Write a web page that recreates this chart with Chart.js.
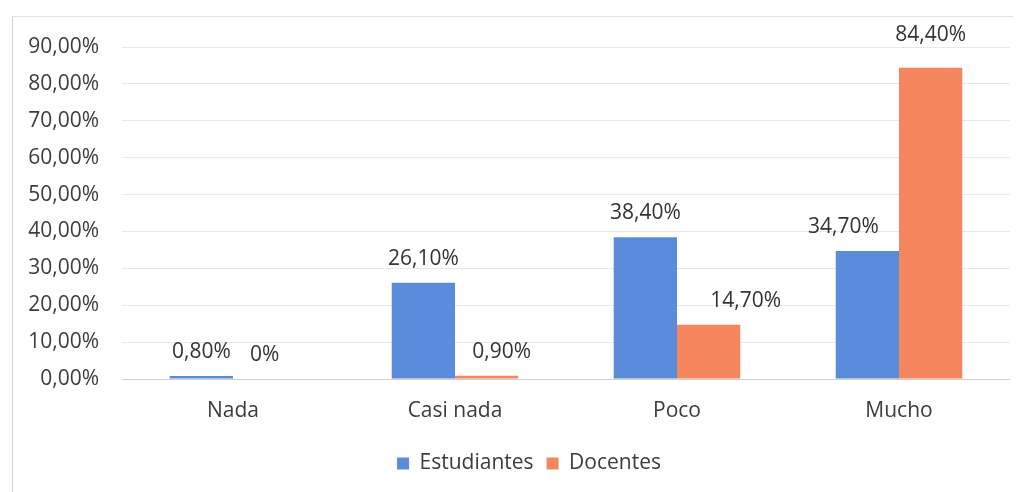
<!DOCTYPE html>
<html>
<head>
<meta charset="utf-8">
<script src="https://cdn.jsdelivr.net/npm/chart.js@4.4.1/dist/chart.umd.min.js"></script>
<style>
  html, body { margin: 0; padding: 0; background: #fff; }
  #wrap { position: relative; width: 1024px; height: 492px; }
  #frame {
    position: absolute; left: 12px; top: 16px; width: 1000px; height: 476px;
    border-left: 1px solid #d6d6d6; border-top: 1px solid #e2e2e2;
    pointer-events: none;
  }
  canvas { position: absolute; left: 0; top: 0; }
</style>
</head>
<body>
<div id="wrap">
  <div id="frame"></div>
  <canvas id="grafico" width="1024" height="492"></canvas>
</div>
<script>
const categorias = ['Nada', 'Casi nada', 'Poco', 'Mucho'];
const estudiantes = [0.8, 26.1, 38.4, 34.7];
const docentes = [0, 0.9, 14.7, 84.4];
const ticksY = [0, 10, 20, 30, 40, 50, 60, 70, 80, 90];

const fuente = "'Open Sans', 'Noto Sans', sans-serif";
const gris = '#3c3c3c';

// formato con coma decimal: 26.1 -> "26,10%"
const pct = v => v === 0 ? '0%' : v.toFixed(2).replace('.', ',') + '%';

// algunas etiquetas van corridas para no pisar la barra vecina
// clave: "dataset-indice" -> [dx, dy]
const ajusteEtiqueta = {
    '1-1': [15, 0],
    '1-2': [37, 0],
    '0-3': [-24, 0],
    '1-3': [0, -9]
};

// etiquetas de valor encima de cada barra
const etiquetas = {
    id: 'etiquetas',
    afterDatasetsDraw(chart) {
        const ctx = chart.ctx;
        ctx.save();
        ctx.font = '21px ' + fuente;
        ctx.fillStyle = '#333333';
        ctx.textAlign = 'center';
        ctx.textBaseline = 'middle';
        chart.data.datasets.forEach((ds, i) => {
            chart.getDatasetMeta(i).data.forEach((bar, j) => {
                const [dx, dy] = ajusteEtiqueta[i + '-' + j] || [0, 0];
                ctx.fillText(pct(ds.data[j]), bar.x + dx, bar.y - 24 + dy);
            });
        });
        ctx.restore();
    }
};

// la leyenda queda un poco a la derecha del centro
const moverLeyenda = {
    id: 'moverLeyenda',
    afterLayout(chart) {
        chart.legend.left += 10;
        chart.legend.right += 10;
    }
};

new Chart(document.getElementById('grafico'), {
    type: 'bar',
    data: {
        labels: categorias,
        datasets: [
            {
                label: 'Estudiantes',
                data: estudiantes,
                backgroundColor: '#5b8cdc'
            },
            {
                label: 'Docentes',
                data: docentes,
                backgroundColor: '#f6865d'
            }
        ]
    },
    options: {
        responsive: false,
        animation: false,
        layout: { padding: { left: 28, right: 14, top: 47, bottom: 8 } },
        datasets: {
            bar: { categoryPercentage: 0.57, barPercentage: 1.0 }
        },
        scales: {
            x: {
                afterFit: scale => { scale.height = 61; },
                grid: { display: false },
                border: { display: false },
                ticks: {
                    color: gris,
                    padding: 11,
                    font: { family: fuente, size: 21 }
                }
            },
            y: {
                min: 0,
                max: 90,
                afterBuildTicks: scale => {
                    scale.ticks = ticksY.map(v => ({ value: v }));
                },
                afterFit: scale => { scale.width = 94; },
                border: { display: false },
                grid: {
                    drawTicks: false,
                    color: ctx => ctx.tick.value === 0 ? '#cfcfcf' : '#e8e8e8'
                },
                ticks: {
                    color: gris,
                    padding: 23,
                    font: { family: fuente, size: 21 },
                    callback: v => v.toFixed(2).replace('.', ',') + '%'
                }
            }
        },
        plugins: {
            legend: {
                position: 'bottom',
                labels: {
                    color: gris,
                    boxWidth: 12,
                    boxHeight: 12,
                    padding: 13,
                    font: { family: fuente, size: 21 }
                }
            },
            tooltip: { enabled: false }
        }
    },
    plugins: [etiquetas, moverLeyenda]
});
</script>
</body>
</html>
